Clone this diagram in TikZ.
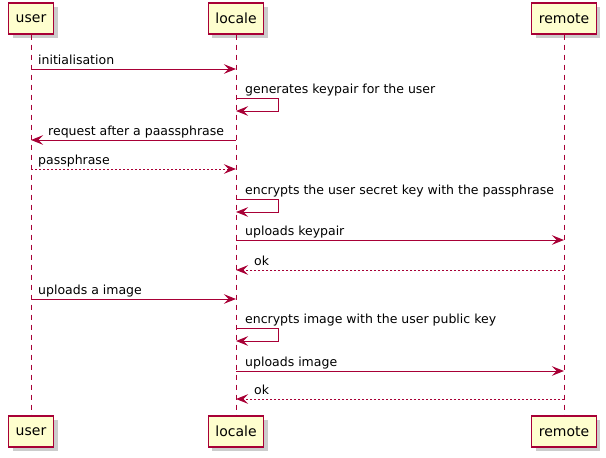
\documentclass[tikz,border=0pt]{standalone}
\usepackage{fontspec}
\setmainfont{DejaVu Sans}
\usepackage{tikz}
\usetikzlibrary{arrows.meta,positioning,calc,shadows}
\definecolor{umlred}{HTML}{A80036}
\definecolor{umlfill}{HTML}{FEFECE}

\begin{document}
\begin{tikzpicture}
[x=1pt,y=-1pt,
actor/.style={draw=umlred,fill=umlfill,line width=1.1pt,minimum width=45pt,minimum height=31pt,inner xsep=7pt,
  font=\fontsize{14}{16}\selectfont,drop shadow={shadow xshift=4pt,shadow yshift=-4pt,fill=black!50,opacity=.4}},
lifeline/.style={draw=umlred,line width=.8pt,dash pattern=on 5pt off 5pt},
msg/.style={draw=umlred,line width=1pt,-{Stealth[length=12pt,width=9.5pt,inset=4.5pt]}},
reply/.style={msg,dash pattern=on 2pt off 2pt},
lbl/.style={anchor=base west,inner sep=0pt,font=\fontsize{12.5}{14}\selectfont}]
\useasboundingbox (0,0) rectangle (606,458);
% participants
\node[actor] (userT) at (31,18.5) {user};
\node[actor] (localeT) at (236,18.5) {locale};
\node[actor] (remoteT) at (564,18.5) {remote};
\node[actor] (userB) at (31,431.5) {user};
\node[actor] (localeB) at (236,431.5) {locale};
\node[actor] (remoteB) at (564,431.5) {remote};
\draw[lifeline] (userT.south) -- (userB.north);
\draw[lifeline] (localeT.south) -- (localeB.north);
\draw[lifeline] (remoteT.south) -- (remoteB.north);
% messages
\draw[msg] (userT |- 0,69) -- (localeT |- 0,69);
\node[lbl] at ($(userT |- 0,69)+(7,-5)$) {initialisation};
\draw[msg] (localeT |- 0,98) -- ++(42,0) -- ++(0,13) -- (localeT |- 0,111);
\node[lbl] at ($(localeT |- 0,98)+(9,-5)$) {generates keypair for the user};
\draw[msg] (localeT |- 0,140) -- (userT |- 0,140);
\node[lbl] at ($(userT |- 0,140)+(17,-5)$) {request after a paassphrase};
\draw[reply] (userT |- 0,169) -- (localeT |- 0,169);
\node[lbl] at ($(userT |- 0,169)+(7,-5)$) {passphrase};
\draw[msg] (localeT |- 0,199) -- ++(42,0) -- ++(0,13) -- (localeT |- 0,212);
\node[lbl] at ($(localeT |- 0,199)+(9,-5)$) {encrypts the user secret key with the passphrase};
\draw[msg] (localeT |- 0,240) -- (remoteT |- 0,240);
\node[lbl] at ($(localeT |- 0,240)+(9,-5)$) {uploads keypair};
\draw[reply] (remoteT |- 0,270) -- (localeT |- 0,270);
\node[lbl] at ($(localeT |- 0,270)+(18,-5)$) {ok};
\draw[msg] (userT |- 0,299) -- (localeT |- 0,299);
\node[lbl] at ($(userT |- 0,299)+(7,-5)$) {uploads a image};
\draw[msg] (localeT |- 0,328) -- ++(42,0) -- ++(0,13) -- (localeT |- 0,341);
\node[lbl] at ($(localeT |- 0,328)+(9,-5)$) {encrypts image with the user public key};
\draw[msg] (localeT |- 0,371) -- (remoteT |- 0,371);
\node[lbl] at ($(localeT |- 0,371)+(9,-5)$) {uploads image};
\draw[reply] (remoteT |- 0,399) -- (localeT |- 0,399);
\node[lbl] at ($(localeT |- 0,399)+(18,-5)$) {ok};
\end{tikzpicture}
\end{document}
